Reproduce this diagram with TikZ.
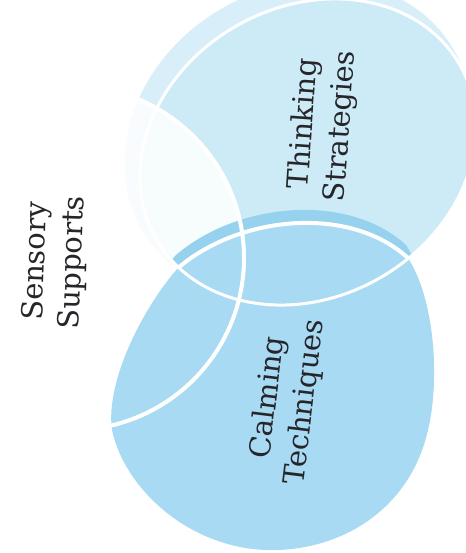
\documentclass[tikz,border=0pt]{standalone}
\usepackage{fontspec}
\newfontfamily\labelfont{DejaVu Serif}
\definecolor{calm}{RGB}{168,219,243}
\definecolor{think}{RGB}{205,235,247}
\definecolor{thinkhalo}{RGB}{216,239,249}
\definecolor{band}{RGB}{150,210,238}
\definecolor{ink}{RGB}{38,38,42}
\def\calmpath{(178,268) .. controls (240,215) and (350,205) .. (408,258)
  .. controls (435,300) and (440,380) .. (428,430)
  .. controls (410,510) and (340,552) .. (267,550)
  .. controls (190,548) and (125,490) .. (112,430)
  .. controls (105,380) and (145,305) .. (178,268) -- cycle}
\begin{document}
\begin{tikzpicture}[x=1pt,y=-1pt,
  lbl/.style={text=ink, align=center, inner sep=0pt,
    font=\labelfont\fontsize{29}{37}\selectfont},
  outline/.style={draw=white, line width=4pt}]
\useasboundingbox (0,0) rectangle (465,553);
\fill[white] (0,0) rectangle (465,553);
% Thinking Strategies circle (wash spreads past its outline to the upper left)
\fill[thinkhalo, rotate around={30:(298,140)}] (298,140) ellipse [x radius=180, y radius=152];
\fill[think, rotate around={30:(308,152)}] (308,152) ellipse [x radius=175, y radius=145];
% Sensory Supports circle (pale)
\fill[white, opacity=0.85] (72,258) circle [radius=172];
% darker band where the Calming wash overlaps Thinking
\begin{scope}
  \clip[rotate around={30:(308,152)}] (308,152) ellipse [x radius=175, y radius=145];
  \fill[band, shift={(-2,-13)}] \calmpath;
\end{scope}
% Calming Techniques circle
\fill[calm] \calmpath;
% outlines
\draw[outline, line width=3pt, rotate around={30:(308,152)}] (308,152) ellipse [x radius=175, y radius=145];
\draw[outline] (178,268) .. controls (240,215) and (350,205) .. (408,258);
\draw[outline] (72,258) circle [radius=172];
% labels
\node[lbl, rotate=88] (sens) at (55,262) {Sensory\\Supports};
\node[lbl, rotate=86] (think) at (323,125) {Thinking\\Strategies};
\node[lbl, rotate=83] (calm) at (287,400) {Calming\\Techniques};
\end{tikzpicture}
\end{document}
